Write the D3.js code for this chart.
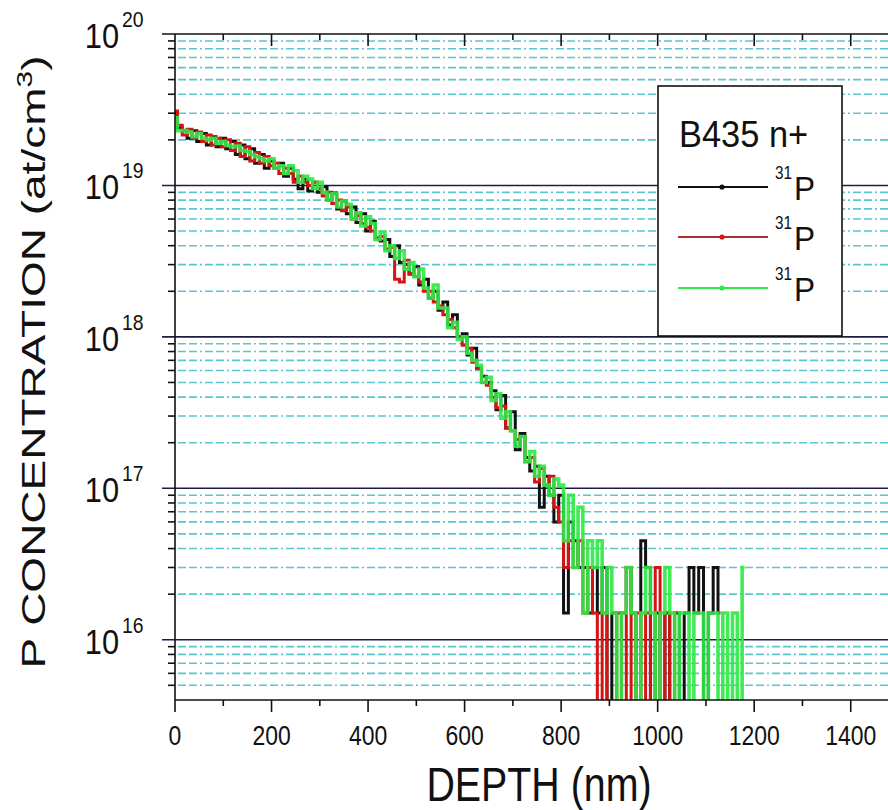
<!DOCTYPE html>
<html>
<head>
<meta charset="utf-8">
<script src="https://cdn.jsdelivr.net/npm/d3@7"></script>
<style>
    body { margin: 0; background: #fff; }
    text { font-family: "Liberation Sans", Arial, Helvetica, sans-serif; fill: #111; }
</style>
</head>
<body>
<svg id="chart"></svg>
<script>
var width = 888;
var height = 810;

// depth grid (nm), one reading every 10 nm
var depthNm = [
    0, 10, 20, 30, 40, 50, 60, 70, 80, 90,
    100, 110, 120, 130, 140, 150, 160, 170, 180, 190,
    200, 210, 220, 230, 240, 250, 260, 270, 280, 290,
    300, 310, 320, 330, 340, 350, 360, 370, 380, 390,
    400, 410, 420, 430, 440, 450, 460, 470, 480, 490,
    500, 510, 520, 530, 540, 550, 560, 570, 580, 590,
    600, 610, 620, 630, 640, 650, 660, 670, 680, 690,
    700, 710, 720, 730, 740, 750, 760, 770, 780, 790,
    800, 810, 820, 830, 840, 850, 860, 870, 880, 890,
    900, 910, 920, 930, 940, 950, 960, 970, 980, 990,
    1000, 1010, 1020, 1030, 1040, 1050, 1060, 1070, 1080, 1090,
    1100, 1110, 1120, 1130, 1140, 1150, 1160, 1170, 1180
];

// P concentration (at/cm3), 0 = no counts
var blackP = [
    3.0e19, 2.4e19, 2.3e19, 2.05e19, 2.3e19, 1.95e19, 2.2e19, 1.85e19, 2.1e19, 1.8e19,
    2.05e19, 1.75e19, 1.95e19, 1.6e19, 1.85e19, 1.5e19, 1.75e19, 1.4e19, 1.6e19, 1.3e19,
    1.45e19, 1.3e19, 1.4e19, 1.15e19, 1.3e19, 1.1e19, 9.5e18, 1.1e19, 9.2e18, 1.05e19,
    9.0e18, 9.8e18, 8.0e18, 8.9e18, 7.0e18, 7.9e18, 6.5e18, 7.2e18, 5.7e18, 6.5e18,
    5.0e18, 5.8e18, 4.5e18, 4.3e18, 4.4e18, 3.4e18, 4.0e18, 3.1e18, 3.0e18, 2.6e18,
    2.9e18, 2.2e18, 2.4e18, 1.8e18, 2.0e18, 1.5e18, 1.7e18, 1.2e18, 1.4e18, 1.0e18,
    1.05e18, 7.6e17, 8.4e17, 6.2e17, 5.5e17, 5.0e17, 4.4e17, 3.3e17, 4.1e17, 2.5e17,
    3.2e17, 1.8e17, 2.3e17, 1.6e17, 1.3e17, 1.4e17, 7.5e16, 1.2e17, 9.0e16, 6.0e16,
    9.0e16, 1.5e16, 6.0e16, 4.5e16, 3.0e16, 3.0e16, 1.5e16, 3.0e16, 1.5e16, 3.0e16,
    0, 1.5e16, 0, 1.5e16, 3.0e16, 1.5e16, 0, 4.5e16, 3.0e16, 0,
    1.5e16, 0, 1.5e16, 0, 1.5e16, 0, 1.5e16, 3.0e16, 1.5e16, 3.0e16,
    0, 1.5e16, 3.0e16, 1.5e16
];

var redP = [
    3.1e19, 2.5e19, 2.15e19, 2.35e19, 2.05e19, 2.25e19, 1.95e19, 2.15e19, 1.85e19, 2.05e19,
    1.8e19, 2.0e19, 1.7e19, 1.9e19, 1.55e19, 1.8e19, 1.45e19, 1.65e19, 1.4e19, 1.55e19,
    1.35e19, 1.4e19, 1.2e19, 1.3e19, 1.2e19, 1.05e19, 1.15e19, 1.05e19, 1.0e19, 1.05e19,
    9.5e18, 8.5e18, 9.0e18, 7.6e18, 8.0e18, 6.8e18, 7.2e18, 6.0e18, 6.3e18, 5.6e18,
    5.3e18, 5.0e18, 4.4e18, 4.6e18, 3.8e18, 3.9e18, 2.4e18, 2.3e18, 3.2e18, 2.6e18,
    2.5e18, 2.3e18, 2.0e18, 2.0e18, 1.7e18, 1.6e18, 1.4e18, 1.3e18, 1.15e18, 1.0e18,
    8.8e17, 8.4e17, 6.8e17, 6.2e17, 5.0e17, 4.8e17, 4.0e17, 3.4e17, 3.5e17, 2.5e17,
    2.4e17, 2.1e17, 2.2e17, 1.5e17, 1.6e17, 1.1e17, 1.35e17, 1.05e17, 1.2e17, 7.5e16,
    6.0e16, 3.0e16, 4.5e16, 3.0e16, 4.5e16, 1.5e16, 3.0e16, 1.5e16, 0, 1.5e16,
    0, 0, 1.5e16, 0, 3.0e16, 0, 1.5e16, 0, 1.5e16, 0,
    3.0e16, 0, 1.5e16, 0, 1.5e16
];

var greenP = [
    2.8e19, 2.3e19, 2.3e19, 2.25e19, 2.1e19, 2.2e19, 2.05e19, 2.0e19, 2.05e19, 1.9e19,
    1.95e19, 1.85e19, 1.8e19, 1.82e19, 1.7e19, 1.68e19, 1.6e19, 1.55e19, 1.5e19, 1.45e19,
    1.5e19, 1.3e19, 1.35e19, 1.2e19, 1.35e19, 1.25e19, 1.05e19, 1.15e19, 1.1e19, 9.5e18,
    1.05e19, 9.0e18, 8.0e18, 8.8e18, 7.2e18, 7.9e18, 7.5e18, 6.0e18, 6.6e18, 5.4e18,
    6.2e18, 5.6e18, 4.4e18, 4.9e18, 3.7e18, 4.0e18, 3.3e18, 3.7e18, 2.8e18, 3.1e18,
    2.5e18, 2.8e18, 2.1e18, 1.8e18, 2.2e18, 1.55e18, 1.55e18, 1.15e18, 1.25e18, 9.6e17,
    1.0e18, 7.8e17, 7.0e17, 6.5e17, 5.0e17, 5.4e17, 3.8e17, 4.2e17, 2.9e17, 3.2e17,
    2.4e17, 1.9e17, 2.2e17, 1.5e17, 1.75e17, 1.2e17, 1.4e17, 1.05e17, 9.0e16, 1.15e17,
    1.05e17, 4.5e16, 9.0e16, 3.0e16, 7.5e16, 1.5e16, 4.5e16, 3.0e16, 4.5e16, 1.5e16,
    3.0e16, 1.5e16, 0, 1.5e16, 3.0e16, 1.5e16, 0, 1.5e16, 3.0e16, 1.5e16,
    0, 1.5e16, 3.0e16, 1.5e16, 0, 1.5e16, 1.5e16, 0, 1.5e16, 1.5e16,
    0, 1.5e16, 1.5e16, 0, 1.5e16, 0, 1.5e16, 0, 3.0e16
];

var seriesNames = ["black", "red", "green"];
var seriesColors = ["#111111", "#d41414", "#2ee845"];
var seriesValues = [blackP, redP, greenP];

var xTicks = [0, 200, 400, 600, 800, 1000, 1200, 1400];
var decades = [16, 17, 18, 19, 20];
var legendTitle = "B435 n+";
var legendLabel = "P";
var legendIsotope = "31";

var plotLeft = 175, plotTop = 34, plotBottom = 700, plotRight = 899;

var svg = d3.select("#chart")
    .attr("width", width)
    .attr("height", height);

var x = d3.scaleLinear().domain([0, 1500]).range([plotLeft, plotRight]);
var y = d3.scaleLog().domain([4e15, 1e20]).range([plotBottom, plotTop]);

// minor grid values 2..9 x 10^n inside the domain
var minorVals = [];
for (var e = 15; e < 20; e++) {
    for (var m = 2; m <= 9; m++) {
        var v = m * Math.pow(10, e);
        if (v > 4e15 && v < 1e20) minorVals.push(v);
    }
}
var majorVals = decades.map(function (d) { return Math.pow(10, d); });

svg.append("defs").append("clipPath")
    .attr("id", "plotClip")
    .append("rect")
    .attr("x", plotLeft)
    .attr("y", plotTop)
    .attr("width", plotRight - plotLeft)
    .attr("height", plotBottom - plotTop);

// grid
svg.append("g").selectAll("line")
    .data(minorVals)
    .enter().append("line")
    .attr("x1", plotLeft + 3)
    .attr("x2", width)
    .attr("y1", function (d) { return y(d); })
    .attr("y2", function (d) { return y(d); })
    .attr("stroke", "#3dbcc6")
    .attr("stroke-width", 1.6)
    .attr("stroke-opacity", 0.85)
    .attr("stroke-dasharray", "8,3,8,3,2,3");

svg.append("g").selectAll("line")
    .data(majorVals.slice(0, 4))
    .enter().append("line")
    .attr("x1", plotLeft - 13)
    .attr("x2", width)
    .attr("y1", function (d) { return y(d); })
    .attr("y2", function (d) { return y(d); })
    .attr("stroke", "#1c1c48")
    .attr("stroke-width", 1.6);

// data
var line = d3.line()
    .curve(d3.curveStep)
    .x(function (d) { return x(d.depth); })
    .y(function (d) { return y(Math.max(d.value, 1e15)); });

var plot = svg.append("g").attr("clip-path", "url(#plotClip)");
for (var s = 0; s < seriesValues.length; s++) {
    var pts = [];
    for (var i = 0; i < seriesValues[s].length; i++) {
        pts.push({ depth: depthNm[i], value: seriesValues[s][i] });
    }
    plot.append("path")
        .datum(pts)
        .attr("class", "series-" + seriesNames[s])
        .attr("fill", "none")
        .attr("stroke", seriesColors[s])
        .attr("stroke-width", s === 2 ? 3.6 : 3)
        .attr("stroke-opacity", s === 2 ? 0.9 : 1)
        .attr("d", line);
}

// axes frame
var axisG = svg.append("g").attr("stroke", "#111").attr("stroke-width", 1.6);
axisG.append("line").attr("x1", plotLeft).attr("x2", plotLeft).attr("y1", plotTop).attr("y2", plotBottom);
axisG.append("line").attr("x1", plotLeft - 13).attr("x2", width).attr("y1", plotTop).attr("y2", plotTop);
axisG.append("line").attr("x1", plotLeft).attr("x2", width).attr("y1", plotBottom).attr("y2", plotBottom);

// left ticks
axisG.selectAll(".ytick")
    .data(minorVals)
    .enter().append("line")
    .attr("x1", plotLeft - 7)
    .attr("x2", plotLeft)
    .attr("y1", function (d) { return y(d); })
    .attr("y2", function (d) { return y(d); });

// bottom and top ticks
var xMinor = [100, 300, 500, 700, 900, 1100, 1300];
axisG.selectAll(".xt")
    .data(xTicks)
    .enter().append("line")
    .attr("x1", function (d) { return x(d); })
    .attr("x2", function (d) { return x(d); })
    .attr("y1", plotBottom)
    .attr("y2", plotBottom + 12);
axisG.selectAll(".xm")
    .data(xMinor)
    .enter().append("line")
    .attr("x1", function (d) { return x(d); })
    .attr("x2", function (d) { return x(d); })
    .attr("y1", plotBottom)
    .attr("y2", plotBottom + 6);
axisG.selectAll(".xtt")
    .data(xTicks.slice(1))
    .enter().append("line")
    .attr("x1", function (d) { return x(d); })
    .attr("x2", function (d) { return x(d); })
    .attr("y1", plotTop)
    .attr("y2", plotTop + 12);
axisG.selectAll(".xmt")
    .data(xMinor)
    .enter().append("line")
    .attr("x1", function (d) { return x(d); })
    .attr("x2", function (d) { return x(d); })
    .attr("y1", plotTop)
    .attr("y2", plotTop + 6);

// x tick labels
svg.append("g").selectAll("text")
    .data(xTicks)
    .enter().append("text")
    .attr("transform", function (d) { return "translate(" + x(d) + ",745) scale(0.82,1)"; })
    .attr("text-anchor", "middle")
    .attr("font-size", 28)
    .text(function (d) { return d; });

// y tick labels: 10^n
var yLab = svg.append("g").selectAll("g")
    .data(decades)
    .enter().append("g");
yLab.append("text")
    .attr("transform", function (d) { return "translate(119," + (y(Math.pow(10, d)) + 14) + ") scale(0.88,1)"; })
    .attr("text-anchor", "end")
    .attr("font-size", 35)
    .text("10");
yLab.append("text")
    .attr("transform", function (d) { return "translate(122," + (y(Math.pow(10, d)) - 7) + ") scale(0.88,1)"; })
    .attr("font-size", 22)
    .text(function (d) { return d; });

// axis titles
svg.append("text")
    .attr("transform", "translate(539,801) scale(0.82,1)")
    .attr("text-anchor", "middle")
    .attr("font-size", 48)
    .text("DEPTH (nm)");

var yTitle = svg.append("text")
    .attr("transform", "translate(45,362) rotate(-90) scale(1,0.72)")
    .attr("text-anchor", "middle")
    .attr("font-size", 46);
yTitle.append("tspan").text("P CONCENTRATION (at/cm");
yTitle.append("tspan").attr("font-size", 30).attr("dy", -18).text("3");
yTitle.append("tspan").attr("dy", 18).text(")");

// legend
var legend = svg.append("g");
legend.append("rect")
    .attr("x", 658)
    .attr("y", 86)
    .attr("width", 184)
    .attr("height", 250)
    .attr("fill", "#fff")
    .attr("stroke", "#111")
    .attr("stroke-width", 1.6);
legend.append("text")
    .attr("transform", "translate(679,147) scale(0.93,1)")
    .attr("font-size", 37)
    .text(legendTitle);

var legendY = [187, 237, 288];
for (var k = 0; k < seriesNames.length; k++) {
    legend.append("line")
        .attr("x1", 678)
        .attr("x2", 768)
        .attr("y1", legendY[k])
        .attr("y2", legendY[k])
        .attr("stroke", k === 1 ? "#a83030" : seriesColors[k])
        .attr("stroke-width", 2);
    legend.append("circle")
        .attr("cx", 722)
        .attr("cy", legendY[k])
        .attr("r", 2.6)
        .attr("fill", seriesColors[k]);
    legend.append("text")
        .attr("transform", "translate(775," + (legendY[k] - 8) + ") scale(0.85,1)")
        .attr("font-size", 18)
        .text(legendIsotope);
    legend.append("text")
        .attr("transform", "translate(794," + (legendY[k] + 13) + ") scale(0.93,1)")
        .attr("font-size", 34)
        .text(legendLabel);
}
</script>
</body>
</html>
